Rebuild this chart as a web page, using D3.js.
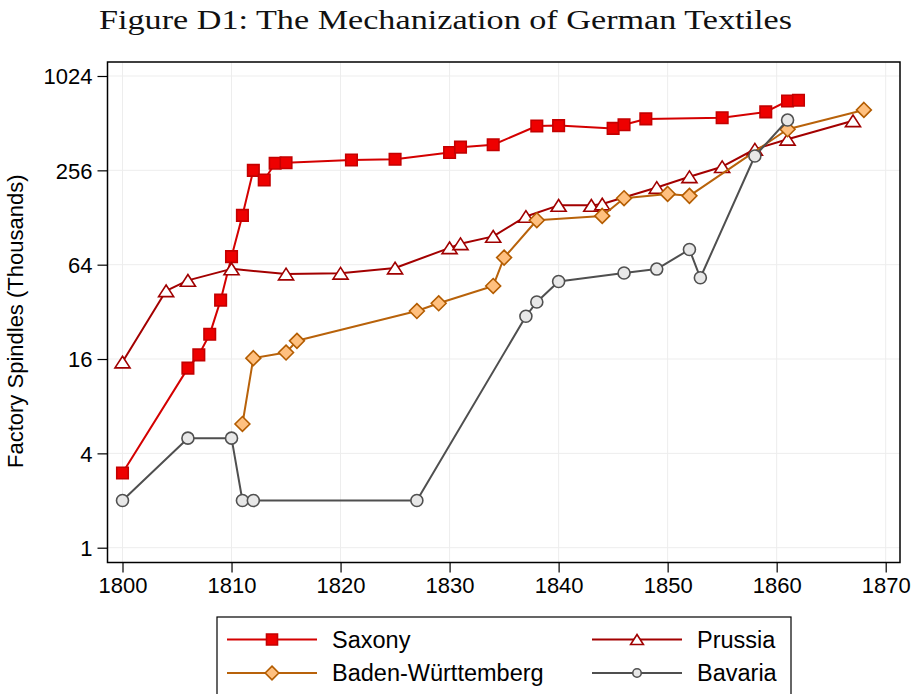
<!DOCTYPE html>
<html>
<head>
<meta charset="utf-8">
<script src="https://cdn.jsdelivr.net/npm/d3@7"></script>
<style>
  html, body { margin: 0; padding: 0; background: #fff; }
  svg { display: block; }
</style>
</head>
<body>
<svg id="chart" width="914" height="694"></svg>
<script>
// ---- Data ----
const title = "Figure D1: The Mechanization of German Textiles";
const yLabel = "Factory Spindles (Thousands)";
const xTicks = [1800, 1810, 1820, 1830, 1840, 1850, 1860, 1870];
const yTicks = [1, 4, 16, 64, 256, 1024];

const saxonyYears  = [1800,1806,1807,1808,1809,1810,1811,1812,1813,1814,1815,1821,1825,1830,1831,1834,1838,1840,1845,1846,1848,1855,1859,1861,1862];
const saxonyValues = [3.0,14,17,23,38,72,132,256,222,284,286,298,301,333,360,373,491,494,474,500,545,555,604,709,717];

const prussiaYears  = [1800,1804,1806,1810,1815,1820,1825,1830,1831,1834,1837,1840,1843,1844,1849,1852,1855,1858,1861,1867];
const prussiaValues = [15.3,43.6,50.8,60.2,55.8,56.4,60.9,82,87,97,130,153,153,156,199,233,270,349,404,530];

const badenYears  = [1811,1812,1815,1816,1827,1829,1834,1835,1838,1844,1846,1850,1852,1861,1868];
const badenValues = [6.16,16.2,17.6,20.9,32.4,36.3,46.8,71,123,131,170,181,176,468,622];

const bavariaYears  = [1800,1806,1810,1811,1812,1827,1837,1838,1840,1846,1849,1852,1853,1858,1861];
const bavariaValues = [2,5,5,2,2,2,30,37,50,56.6,60,80,52.8,316,536];

const seriesNames = ["Saxony", "Prussia", "Baden-Württemberg", "Bavaria"];

// ---- Layout ----
const svg = d3.select("#chart");
const frame = {left: 107.5, right: 900, top: 62, bottom: 562.5};
const x = d3.scaleLinear().domain([1800, 1870]).range([122.5, 885.7]);
const y = d3.scaleLog().base(2).domain([1, 1024]).range([547.7, 76]);

const styles = {
  "Saxony": {line: "#d40000", stroke: "#c40000", fill: "#ee0000", shape: "square"},
  "Prussia": {line: "#a30000", stroke: "#a00000", fill: "#ffffff", shape: "triangle"},
  "Baden-Württemberg": {line: "#b8620a", stroke: "#b35c00", fill: "#ffc07f", shape: "diamond"},
  "Bavaria": {line: "#4f4f4f", stroke: "#505050", fill: "#e8e8e8", shape: "circle"}
};

function markerPath(shape, s) {
  if (shape === "square") { const h = s/2; return `M${-h},${-h}H${h}V${h}H${-h}Z`; }
  if (shape === "triangle") { const w = s*0.58, h = s*0.45; return `M0,${-h}L${w},${h}L${-w},${h}Z`; }
  if (shape === "diamond") { const h = s*0.62; return `M0,${-h}L${h},0L0,${h}L${-h},0Z`; }
  const r = s/2; return `M${r},0A${r},${r} 0 1,1 ${-r},0A${r},${r} 0 1,1 ${r},0Z`;
}
const plotSize = {"square": 11.5, "triangle": 13, "diamond": 12, "circle": 12};
const legendSize = {"square": 11, "triangle": 11, "diamond": 11, "circle": 8.5};

// Title
const t = svg.append("text")
  .attr("x", 445.5).attr("y", 29)
  .attr("text-anchor", "middle")
  .attr("font-family", "'Liberation Serif', 'DejaVu Serif', serif")
  .attr("font-size", 28)
  .attr("fill", "#111")
  .text(title);
t.attr("textLength", 693).attr("lengthAdjust", "spacingAndGlyphs");

// Gridlines
const grid = svg.append("g").attr("stroke", "#ededed").attr("stroke-width", 1);
grid.selectAll(".gx").data(xTicks).join("line")
  .attr("x1", d => x(d)).attr("x2", d => x(d))
  .attr("y1", frame.top).attr("y2", frame.bottom);
grid.selectAll(".gy").data(yTicks).join("line")
  .attr("y1", d => y(d)).attr("y2", d => y(d))
  .attr("x1", frame.left).attr("x2", frame.right);

// Axes
const fontSans = "'Liberation Sans', Arial, Helvetica, sans-serif";
const xAxis = svg.append("g")
  .attr("transform", `translate(0,${frame.bottom})`)
  .call(d3.axisBottom(x).tickValues(xTicks).tickFormat(d3.format("d")).tickSize(10).tickPadding(5).tickSizeOuter(0));
const yAxis = svg.append("g")
  .attr("transform", `translate(${frame.left},0)`)
  .call(d3.axisLeft(y).tickValues(yTicks).tickFormat(d3.format("d")).tickSize(10).tickPadding(5).tickSizeOuter(0));
[xAxis, yAxis].forEach(a => {
  a.select(".domain").remove();
  a.selectAll("line").attr("stroke", "#000").attr("stroke-width", 1.2);
  a.selectAll("text").attr("font-family", fontSans).attr("font-size", 22).attr("fill", "#000");
});
yAxis.selectAll("text").attr("dy", "0.36em");

// Frame
svg.append("rect")
  .attr("x", frame.left).attr("y", frame.top)
  .attr("width", frame.right - frame.left).attr("height", frame.bottom - frame.top)
  .attr("fill", "none").attr("stroke", "#000").attr("stroke-width", 1.5);

// Y label
svg.append("text")
  .attr("transform", `translate(15,${(frame.top + frame.bottom) / 2 + 9}) rotate(-90)`)
  .attr("text-anchor", "middle")
  .attr("dominant-baseline", "central")
  .attr("font-family", fontSans).attr("font-size", 22).attr("fill", "#000")
  .text(yLabel);

// Series
const seriesData = [
  {name: "Saxony", years: saxonyYears, values: saxonyValues},
  {name: "Prussia", years: prussiaYears, values: prussiaValues},
  {name: "Baden-Württemberg", years: badenYears, values: badenValues},
  {name: "Bavaria", years: bavariaYears, values: bavariaValues}
];
const line = d3.line().x(d => x(d[0])).y(d => y(d[1]));
seriesData.forEach(s => {
  const st = styles[s.name];
  const pts = s.years.map((yr, i) => [yr, s.values[i]]);
  const g = svg.append("g");
  g.append("path").datum(pts).attr("d", line)
    .attr("fill", "none").attr("stroke", st.line).attr("stroke-width", 2)
    .attr("stroke-linejoin", "round");
  g.selectAll("path.m").data(pts).join("path").attr("class", "m")
    .attr("transform", d => `translate(${x(d[0])},${y(d[1])})`)
    .attr("d", markerPath(st.shape, plotSize[st.shape]))
    .attr("fill", st.fill).attr("stroke", st.stroke).attr("stroke-width", 1.6);
});

// Legend
const legend = svg.append("g");
legend.append("rect")
  .attr("x", 217).attr("y", 617).attr("width", 574).attr("height", 100)
  .attr("fill", "#fff").attr("stroke", "#000").attr("stroke-width", 1.2);
const legendItems = [
  {name: "Saxony", lx: 227, ty: 639.5},
  {name: "Prussia", lx: 592, ty: 639.5},
  {name: "Baden-Württemberg", lx: 227, ty: 673},
  {name: "Bavaria", lx: 592, ty: 673}
];
legendItems.forEach(it => {
  const st = styles[it.name];
  legend.append("line").attr("x1", it.lx).attr("x2", it.lx + 90)
    .attr("y1", it.ty).attr("y2", it.ty)
    .attr("stroke", st.line).attr("stroke-width", 2);
  legend.append("path")
    .attr("transform", `translate(${it.lx + 45},${it.ty})`)
    .attr("d", markerPath(st.shape, legendSize[st.shape]))
    .attr("fill", st.fill).attr("stroke", st.stroke).attr("stroke-width", 1.6);
  legend.append("text")
    .attr("x", it.lx + 105).attr("y", it.ty)
    .attr("dy", "0.36em")
    .attr("font-family", fontSans).attr("font-size", 23.5).attr("fill", "#000")
    .text(it.name);
});
</script>
</body>
</html>
